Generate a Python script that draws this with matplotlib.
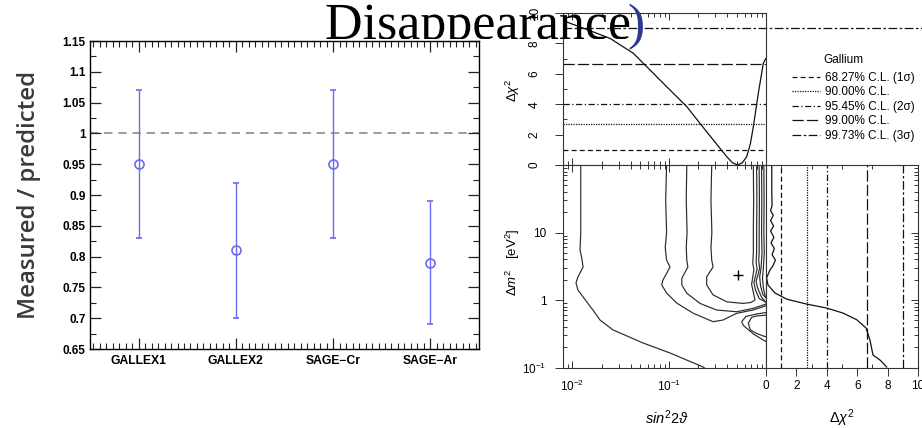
import matplotlib
matplotlib.use('Agg')
import matplotlib.pyplot as plt
import numpy as np
from matplotlib.ticker import MultipleLocator, FixedLocator, LogLocator, NullFormatter, FuncFormatter
from matplotlib.transforms import Bbox, Affine2D
from matplotlib.textpath import TextPath
from matplotlib.patches import PathPatch
from matplotlib.font_manager import FontProperties

plt.rcParams['font.family'] = ['Liberation Sans', 'DejaVu Sans']
plt.rcParams['mathtext.fontset'] = 'custom'
plt.rcParams['mathtext.rm'] = 'Liberation Sans'
plt.rcParams['mathtext.it'] = 'Liberation Sans:italic'
plt.rcParams['mathtext.bf'] = 'Liberation Sans:bold'

# ---------------- left chart data ----------------
experiments = ['GALLEX1', 'GALLEX2', 'SAGE\u2212Cr', 'SAGE\u2212Ar']
ratio = [0.95, 0.81, 0.95, 0.79]
ratio_err = [0.12, 0.11, 0.12, 0.10]
ratio_ref = 1.0
ratio_yticks = [0.65, 0.7, 0.75, 0.8, 0.85, 0.9, 0.95, 1.0, 1.05, 1.1, 1.15]

# ---------------- right composite data ----------------
cl_labels = ['68.27% C.L. (1\u03c3)', '90.00% C.L.', '95.45% C.L. (2\u03c3)',
             '99.00% C.L.', '99.73% C.L. (3\u03c3)']
cl_dchi2 = [1.00, 2.71, 4.00, 6.63, 9.00]

# Δχ² vs sin²2θ (top panel)
top_sin2 = [0.00806, 0.0146, 0.0245, 0.0426, 0.0634, 0.0942, 0.152, 0.208, 0.286,
            0.393, 0.45, 0.51, 0.57, 0.632, 0.69, 0.74, 0.833, 0.938, 0.993, 0.995]
top_chi2 = [9.49, 8.88, 8.33, 7.35, 6.25, 5.15, 3.84, 2.74, 1.64,
            0.55, 0.15, 0.0, 0.15, 0.55, 1.4, 2.52, 4.72, 6.69, 7.0, 7.0]

# Δχ² vs Δm² (right panel)
right_dm2 = [100, 40, 25, 21, 18, 15, 12.5, 10.5, 8.5, 7.0, 5.8, 4.7, 3.9, 3.2, 2.78, 2.12,
             1.67, 1.27, 1.03, 0.87, 0.76, 0.64, 0.51, 0.385, 0.255, 0.153, 0.129, 0.1016]
right_chi2 = [0.38, 0.38, 0.40, 0.30, 0.48, 0.30, 0.50, 0.30, 0.52, 0.33, 0.55, 0.40, 0.62, 0.45, 0.26, 0.04,
              0.13, 0.59, 1.36, 2.67, 3.99, 5.07, 5.97, 6.58, 6.84, 7.04, 7.5, 7.94]

# allowed-region contours (sin²2θ, Δm²)
cA_s = [0.0122, 0.0122, 0.0120, 0.0125, 0.0129, 0.0114, 0.0109, 0.0114, 0.0129, 0.0163,
        0.0193, 0.0263, 0.0536, 0.102, 0.223, 0.24]
cA_m = [100, 10, 5.5, 4.2, 3.08, 2.19, 1.79, 1.41, 1.11, 0.71,
        0.505, 0.36, 0.231, 0.164, 0.102, 0.095]
cB_s = [0.094, 0.092, 0.094, 0.091, 0.094, 0.102, 0.0863, 0.0837, 0.094, 0.1196, 0.176, 0.284,
        0.36, 0.498, 0.734, 0.938, 1.05, 0.90, 0.82, 0.79, 0.83, 0.86, 0.84, 0.85, 0.85, 0.855, 0.85]
cB_m = [100, 30, 10, 6, 3.9, 3.08, 1.98, 1.67, 1.27, 0.90, 0.64, 0.477,
        0.505, 0.635, 0.71, 0.796, 0.85, 1.1, 1.5, 1.9, 2.4, 3.0, 3.8, 5, 10, 30, 100]
cC_s = [0.152, 0.150, 0.153, 0.150, 0.152, 0.156, 0.135, 0.135, 0.152, 0.208, 0.31, 0.498,
        0.734, 0.93, 1.05, 0.85, 0.78, 0.75, 0.78, 0.81, 0.79, 0.80, 0.80, 0.805, 0.80]
cC_m = [100, 30, 10, 6, 3.9, 3.08, 2.10, 1.67, 1.26, 0.89, 0.71, 0.67,
        0.75, 0.84, 0.9, 1.05, 1.4, 1.8, 2.3, 2.9, 3.6, 5, 10, 30, 100]
cD_s = [0.275, 0.27, 0.276, 0.27, 0.275, 0.284, 0.244, 0.244, 0.284, 0.393, 0.579, 0.70,
        0.77, 0.74, 0.71, 0.73, 0.75, 0.73, 0.74, 0.74, 0.745, 0.74]
cD_m = [100, 30, 10, 6, 3.9, 3.08, 2.21, 1.67, 1.19, 0.94, 0.89, 0.92,
        1.0, 1.3, 1.7, 2.2, 2.8, 3.5, 5, 10, 30, 100]
cE1_s = [0.90, 0.905, 0.90, 0.91, 0.89, 0.86, 0.88, 0.93, 1.05]
cE1_m = [100, 30, 10, 5, 3.0, 2.2, 1.6, 1.2, 1.0]
cE2_s = [0.95, 0.955, 0.95, 0.96, 0.94, 0.92, 0.94, 0.98, 1.05]
cE2_m = [100, 30, 10, 5, 3.0, 2.1, 1.5, 1.15, 0.98]
cI1_s = [1.05, 0.80, 0.62, 0.561, 0.583, 0.632, 0.75, 0.938, 1.05]
cI1_m = [0.66, 0.62, 0.57, 0.477, 0.42, 0.381, 0.31, 0.255, 0.235]
cI2_s = [1.05, 0.80, 0.711, 0.656, 0.69, 0.80, 0.938, 1.05]
cI2_m = [0.60, 0.58, 0.554, 0.452, 0.36, 0.32, 0.293, 0.28]
contours_s = [cA_s, cB_s, cC_s, cD_s, cE1_s, cE2_s, cI1_s, cI2_s]
contours_m = [cA_m, cB_m, cC_m, cD_m, cE1_m, cE2_m, cI1_m, cI2_m]

best_fit_sin2 = [0.514]
best_fit_dm2 = [2.35]

W, H = 922, 428
fig = plt.figure(figsize=(W / 100, H / 100), dpi=100)


def rect(x0, y0, x1, y1):
    return [x0 / W, 1 - y1 / H, (x1 - x0) / W, (y1 - y0) / H]


# ================= left chart =================
blue = '#6a6af2'
ax1 = fig.add_axes(rect(90, 41, 479, 349))
pos = np.arange(len(experiments)) + 0.5
ax1.axhline(ratio_ref, color='#8a8a8a', ls=(0, (5, 3.5)), lw=1.2, zorder=1)
ax1.errorbar(pos, ratio, yerr=ratio_err, fmt='o', mfc='none', mec=blue, color=blue,
             ms=6.5, mew=1.2, elinewidth=1.0, capsize=2, capthick=1.0, zorder=3)
ax1.set_xlim(0, 4)
ax1.set_ylim(0.65, 1.15)
ax1.set_xticks(pos)
ax1.set_xticklabels(experiments, fontsize=8.7, fontweight='bold')
ax1.set_yticks(ratio_yticks)
ax1.yaxis.set_major_formatter(FuncFormatter(lambda v, p: f'{round(v, 2):g}'))
for lab in ax1.get_yticklabels():
    lab.set_fontweight('bold')
ax1.tick_params(axis='y', labelsize=8.5, pad=3)
ax1.tick_params(axis='x', pad=4)
ax1.yaxis.set_minor_locator(MultipleLocator(0.025))
ax1.xaxis.set_minor_locator(FixedLocator(np.arange(0.5 - 7 / 15, 4, 1 / 15)))
ax1.tick_params(which='both', direction='in', top=True, right=True, color='#222222')
ax1.tick_params(which='major', length=8, width=0.9)
ax1.tick_params(which='minor', length=4, width=0.8)
for s in ax1.spines.values():
    s.set_linewidth(1.0)

fig.text(29 / W, 1 - 195 / H, 'Measured / predicted', rotation=90, ha='center', va='center',
         fontsize=17.3, family=['Open Sans', 'DejaVu Sans'], fontweight='semibold', color='#3a3a3a')

# ================= right composite =================
grey = '#333333'
cl_styles = [(0, (4, 2.5)), (0, (1, 1)), (0, (5, 2, 1, 2)), (0, (9, 2.5)), (0, (7, 2, 2, 2))]

axT = fig.add_axes(rect(563, 13, 766, 165))
axB = fig.add_axes(rect(563, 165, 766, 367.5))
axR = fig.add_axes(rect(766, 165, 918, 367.5))

for ax in (axT, axB, axR):
    for s in ax.spines.values():
        s.set_linewidth(0.8)
        s.set_color(grey)
    ax.tick_params(which='both', color=grey, labelsize=8.5, width=0.7)

# top panel
axT.set_xscale('log')
axT.set_xlim(0.008, 1)
axT.set_ylim(0, 10)
axT.plot(top_sin2, top_chi2, color='#111111', lw=0.9)
handles = []
for lvl, st in zip(cl_dchi2, cl_styles):
    xmax = (W - 563) / (766 - 563) if lvl == cl_dchi2[-1] else 1
    h = axT.axhline(lvl, xmin=0, xmax=xmax, color='#111111', lw=0.9, ls=st, clip_on=False)
    handles.append(h)
axT.set_yticks(np.arange(0, 11, 2))
axT.yaxis.set_minor_locator(MultipleLocator(1))
axT.xaxis.set_major_locator(LogLocator(base=10))
axT.xaxis.set_minor_locator(LogLocator(base=10, subs=np.arange(2, 10)))
axT.xaxis.set_major_formatter(NullFormatter())
axT.xaxis.set_minor_formatter(NullFormatter())
axT.tick_params(axis='x', which='both', direction='in', top=True, bottom=True)
axT.tick_params(axis='x', which='major', length=5)
axT.tick_params(axis='x', which='minor', length=3)
axT.tick_params(axis='y', which='major', direction='out', length=6, pad=10)
axT.tick_params(axis='y', which='minor', direction='in', length=3)
for lab in axT.get_yticklabels():
    lab.set_rotation(90)
    lab.set_va('center')

# bottom-left contour panel
axB.set_xscale('log')
axB.set_yscale('log')
axB.set_xlim(0.008, 1)
axB.set_ylim(0.1, 100)
for cs, cm in zip(contours_s, contours_m):
    axB.plot(cs, cm, color='#2a2a2a', lw=0.85)
axB.plot(best_fit_sin2, best_fit_dm2, marker='+', ms=7, mew=1.0, color='k', ls='none')
axB.set_xticks([0.01, 0.1, 1])
axB.set_xticklabels(['$10^{-2}$', '$10^{-1}$', ''])
axB.set_yticks([0.1, 1, 10, 100])
axB.set_yticklabels(['$10^{-1}$', '1', '10', ''])
axB.xaxis.set_minor_locator(LogLocator(base=10, subs=np.arange(2, 10)))
axB.yaxis.set_minor_locator(LogLocator(base=10, subs=np.arange(2, 10)))
axB.xaxis.set_minor_formatter(NullFormatter())
axB.yaxis.set_minor_formatter(NullFormatter())
axB.tick_params(axis='x', which='both', direction='in', top=True, bottom=True, pad=8)
axB.tick_params(axis='x', which='major', length=5)
axB.tick_params(axis='x', which='minor', length=3)
axB.tick_params(axis='y', which='major', direction='out', length=6, pad=6)
axB.tick_params(axis='y', which='minor', direction='in', length=3)

# bottom-right panel
axR.set_yscale('log')
axR.set_xlim(0, 10)
axR.set_ylim(0.1, 100)
axR.plot(right_chi2, right_dm2, color='#111111', lw=0.9)
for lvl, st in zip(cl_dchi2, cl_styles):
    axR.axvline(lvl, color='#111111', lw=0.9, ls=st)
axR.set_xticks(np.arange(0, 11, 2))
axR.xaxis.set_minor_locator(MultipleLocator(1))
axR.yaxis.set_minor_locator(LogLocator(base=10, subs=np.arange(2, 10)))
axR.yaxis.set_major_formatter(NullFormatter())
axR.yaxis.set_minor_formatter(NullFormatter())
axR.tick_params(axis='y', which='both', direction='in', left=False, right=True)
axR.tick_params(axis='y', which='major', length=5)
axR.tick_params(axis='y', which='minor', length=3)
axR.tick_params(axis='x', which='major', direction='out', length=6, pad=3)
axR.tick_params(axis='x', which='minor', direction='in', length=3, top=True)

# axis titles
fig.text(513 / W, 1 - 90 / H, r'$\Delta\chi^2$', rotation=90, ha='center', va='center', fontsize=9.5)
fig.text(513 / W, 1 - 262 / H, r'$\Delta m^2$   [eV$^2$]', rotation=90, ha='center', va='center', fontsize=9.5)
fig.text(667 / W, 1 - 418 / H, r'$sin^2 2\vartheta$', ha='center', va='center', fontsize=10.5)
fig.text(842 / W, 1 - 418 / H, r'$\Delta\chi^2$', ha='center', va='center', fontsize=10.5)

# legend
fig.text(843 / W, 1 - 60 / H, 'Gallium', ha='center', va='center', fontsize=8.5)
fig.legend(handles=handles, labels=cl_labels, loc='upper left',
           bbox_to_anchor=(792 / W, 1 - 72 / H), frameon=False, fontsize=8.5,
           handlelength=2.35, handletextpad=0.43, labelspacing=0.21,
           borderpad=0, borderaxespad=0)

# slide title fragment (descenders hidden behind the chart picture)
base_y = 39
tp = TextPath((0, 0), 'Disappearance', size=52, prop=FontProperties(family='Liberation Serif'))
title_patch = PathPatch(tp, transform=Affine2D().translate(325, H - base_y), facecolor='black',
                        edgecolor='none', zorder=10)
fig.add_artist(title_patch)
title_patch.set_clip_box(Bbox([[0, H - base_y], [W, H]]))
title_patch.set_clip_on(True)
x_end = 325 + tp.get_extents().x1
fig.text((x_end - 2) / W, 1 - base_y / H, ')', fontsize=37, family=['Liberation Serif'],
         ha='left', va='baseline', color='#2b3a8f', zorder=10)

fig.savefig('out.png', dpi=100)
